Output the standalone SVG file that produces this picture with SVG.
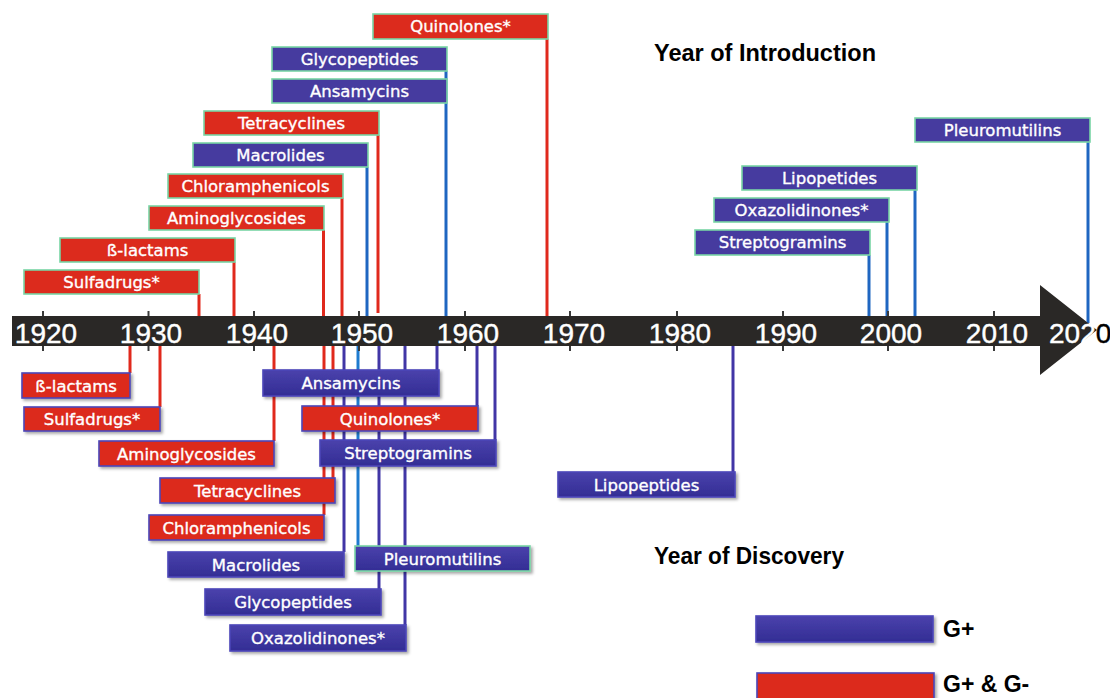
<svg xmlns="http://www.w3.org/2000/svg" width="1110" height="698" viewBox="0 0 1110 698">
<style>
.lbl{font-family:"DejaVu Sans","Liberation Sans",sans-serif;font-size:16.5px;fill:#fff;stroke:#fff;stroke-width:0.35;text-anchor:middle}
.yr{font-family:"Liberation Sans","DejaVu Sans",sans-serif;font-size:28px;fill:#fff;stroke:#fff;stroke-width:0.4;text-anchor:middle}
.ttl{font-family:"Liberation Sans",Arial,sans-serif;font-weight:bold;font-size:24px;fill:#000}
.tr{fill:#dc2b1d;stroke:#78d5a5;stroke-width:1.6}
.tb{fill:#463b9f;stroke:#78d5a5;stroke-width:1.6}
.br{fill:#dc2b1d;stroke:#4b46b8;stroke-width:1.6;filter:url(#sh)}
.bb{fill:url(#gb);stroke:#4b46b8;stroke-width:1.6;filter:url(#sh)}
.bg{fill:url(#gb);stroke:#78d5a5;stroke-width:1.6;filter:url(#sh)}
.lr{stroke:#e0291c;stroke-width:3;fill:none}
.lb{stroke:#1f66c1;stroke-width:3;fill:none}
.lp{stroke:#4136a6;stroke-width:3;fill:none}
.ll{stroke:#1e7bcf;stroke-width:3;fill:none}
.tk{stroke:#3a3a3a;stroke-width:2}
</style>
<defs>
<linearGradient id="gb" x1="0" y1="0" x2="0" y2="1">
<stop offset="0" stop-color="#4a42ac"/>
<stop offset="1" stop-color="#332d94"/>
</linearGradient>
<filter id="sh" x="-5%" y="-20%" width="115%" height="160%">
<feDropShadow dx="2" dy="2" stdDeviation="1.5" flood-color="#000" flood-opacity="0.35"/>
</filter>
</defs>
<rect width="1110" height="698" fill="#fff"/>

<g id="connectors">
<line class="lr" x1="199" y1="294" x2="199" y2="316"/>
<line class="lr" x1="234" y1="262" x2="234" y2="316"/>
<line class="lr" x1="323.5" y1="230" x2="323.5" y2="316"/>
<line class="lr" x1="342" y1="198" x2="342" y2="316"/>
<line class="lb" x1="367" y1="167" x2="367" y2="316"/>
<line class="lr" x1="378" y1="135" x2="378" y2="313"/>
<line class="lb" x1="446" y1="71" x2="446" y2="316"/>
<line class="lr" x1="547" y1="39" x2="547" y2="316"/>
<line class="lb" x1="869" y1="255" x2="869" y2="316"/>
<line class="lb" x1="887" y1="222" x2="887" y2="316"/>
<line class="lb" x1="915" y1="190" x2="915" y2="316"/>
<line class="lb" x1="1088" y1="142" x2="1088" y2="323"/>

<line class="lr" x1="130" y1="346" x2="130" y2="373"/>
<line class="lr" x1="160" y1="346" x2="160" y2="407"/>
<line class="lr" x1="274" y1="346" x2="274" y2="441"/>
<line class="lr" x1="324" y1="346" x2="324" y2="515"/>
<line class="lr" x1="333" y1="346" x2="333" y2="478"/>
<line class="lp" x1="344" y1="346" x2="344" y2="552"/>
<line class="ll" x1="358" y1="346" x2="358" y2="546"/>
<line class="lp" x1="379" y1="346" x2="379" y2="589"/>
<line class="lp" x1="405" y1="346" x2="405" y2="625"/>
<line class="lp" x1="437" y1="346" x2="437" y2="370"/>
<line class="lp" x1="477" y1="346" x2="477" y2="406"/>
<line class="lp" x1="495" y1="346" x2="495" y2="440"/>
<line class="lp" x1="733" y1="346" x2="733" y2="472"/>
</g>

<g id="axis">
<line class="tk" x1="43" y1="311" x2="43" y2="351"/>
<line class="tk" x1="148.5" y1="311" x2="148.5" y2="351"/>
<line class="tk" x1="254" y1="311" x2="254" y2="351"/>
<line class="tk" x1="359" y1="311" x2="359" y2="351"/>
<line class="tk" x1="465" y1="311" x2="465" y2="351"/>
<line class="tk" x1="570" y1="311" x2="570" y2="351"/>
<line class="tk" x1="677" y1="311" x2="677" y2="351"/>
<line class="tk" x1="783" y1="311" x2="783" y2="351"/>
<line class="tk" x1="888" y1="311" x2="888" y2="351"/>
<line class="tk" x1="994" y1="311" x2="994" y2="351"/>
<polygon points="12,316 1040,316 1040,285 1097,330 1040,375 1040,346 12,346" fill="#2a2826"/>
<text class="yr" x="46" y="343">1920</text>
<text class="yr" x="151" y="343">1930</text>
<text class="yr" x="257" y="343">1940</text>
<text class="yr" x="362" y="343">1950</text>
<text class="yr" x="468" y="343">1960</text>
<text class="yr" x="574" y="343">1970</text>
<text class="yr" x="680" y="343">1980</text>
<text class="yr" x="786" y="343">1990</text>
<text class="yr" x="891" y="343">2000</text>
<text class="yr" x="997" y="343">2010</text>
<text class="yr" x="1049" y="343" style="text-anchor:start">202<tspan fill="#000" stroke="#000">0</tspan></text>
</g>

<text class="ttl" x="654" y="61" textLength="222" lengthAdjust="spacingAndGlyphs">Year of Introduction</text>
<text class="ttl" x="654" y="564" textLength="190" lengthAdjust="spacingAndGlyphs">Year of Discovery</text>

<g id="intro-quinolones"><rect class="tr" x="373" y="14" width="175" height="25"/><text class="lbl" x="460.5" y="32">Quinolones*</text></g>
<g id="intro-glycopeptides"><rect class="tb" x="272" y="47" width="175" height="24"/><text class="lbl" x="359.5" y="65">Glycopeptides</text></g>
<g id="intro-ansamycins"><rect class="tb" x="272" y="79" width="175" height="24"/><text class="lbl" x="359.5" y="97">Ansamycins</text></g>
<g id="intro-tetracyclines"><rect class="tr" x="204" y="111" width="175" height="24"/><text class="lbl" x="291.5" y="129">Tetracyclines</text></g>
<g id="intro-macrolides"><rect class="tb" x="193" y="143" width="175" height="24"/><text class="lbl" x="280.5" y="161">Macrolides</text></g>
<g id="intro-chloramphenicols"><rect class="tr" x="168" y="174" width="175" height="24"/><text class="lbl" x="255.5" y="192">Chloramphenicols</text></g>
<g id="intro-aminoglycosides"><rect class="tr" x="149" y="206" width="175" height="24"/><text class="lbl" x="236.5" y="224">Aminoglycosides</text></g>
<g id="intro-blactams"><rect class="tr" x="60" y="238" width="175" height="24"/><text class="lbl" x="147.5" y="256">ß-lactams</text></g>
<g id="intro-sulfadrugs"><rect class="tr" x="24" y="270" width="175" height="24"/><text class="lbl" x="111.5" y="288">Sulfadrugs*</text></g>
<g id="intro-pleuromutilins"><rect class="tb" x="915" y="118" width="175" height="24"/><text class="lbl" x="1002.5" y="136">Pleuromutilins</text></g>
<g id="intro-lipopetides"><rect class="tb" x="742" y="166" width="175" height="24"/><text class="lbl" x="829.5" y="184">Lipopetides</text></g>
<g id="intro-oxazolidinones"><rect class="tb" x="714" y="198" width="175" height="24"/><text class="lbl" x="801.5" y="216">Oxazolidinones*</text></g>
<g id="intro-streptogramins"><rect class="tb" x="695" y="230" width="175" height="25"/><text class="lbl" x="782.5" y="248">Streptogramins</text></g>

<g id="disc-blactams"><rect class="br" x="22" y="373" width="108" height="25"/><text class="lbl" x="76" y="392">ß-lactams</text></g>
<g id="disc-sulfadrugs"><rect class="br" x="24" y="407" width="136" height="24"/><text class="lbl" x="92" y="425">Sulfadrugs*</text></g>
<g id="disc-aminoglycosides"><rect class="br" x="99" y="441" width="175" height="25"/><text class="lbl" x="186.5" y="460">Aminoglycosides</text></g>
<g id="disc-tetracyclines"><rect class="br" x="160" y="478" width="175" height="25"/><text class="lbl" x="247.5" y="497">Tetracyclines</text></g>
<g id="disc-chloramphenicols"><rect class="br" x="149" y="515" width="175" height="25"/><text class="lbl" x="236.5" y="534">Chloramphenicols</text></g>
<g id="disc-macrolides"><rect class="bb" x="168" y="552" width="176" height="25"/><text class="lbl" x="256" y="571">Macrolides</text></g>
<g id="disc-glycopeptides"><rect class="bb" x="205" y="589" width="176" height="26"/><text class="lbl" x="293" y="608">Glycopeptides</text></g>
<g id="disc-oxazolidinones"><rect class="bb" x="230" y="625" width="176" height="26"/><text class="lbl" x="318" y="644">Oxazolidinones*</text></g>
<g id="disc-ansamycins"><rect class="bb" x="263" y="370" width="176" height="26"/><text class="lbl" x="351" y="389">Ansamycins</text></g>
<g id="disc-quinolones"><rect class="br" x="302" y="406" width="176" height="25"/><text class="lbl" x="390" y="425">Quinolones*</text></g>
<g id="disc-streptogramins"><rect class="bb" x="320" y="440" width="176" height="26"/><text class="lbl" x="408" y="459">Streptogramins</text></g>
<g id="disc-pleuromutilins"><rect class="bg" x="355" y="546" width="175" height="25"/><text class="lbl" x="442.5" y="565">Pleuromutilins</text></g>
<g id="disc-lipopeptides"><rect class="bb" x="558" y="472" width="177" height="25"/><text class="lbl" x="646.5" y="491">Lipopeptides</text></g>

<g id="legend">
<rect class="bb" x="756" y="616" width="177" height="26"/>
<text class="ttl" x="943" y="637" style="font-size:23px">G+</text>
<rect class="br" x="757" y="673" width="177" height="30"/>
<text class="ttl" x="943" y="692" style="font-size:23px">G+ &amp; G-</text>
</g>
</svg>
